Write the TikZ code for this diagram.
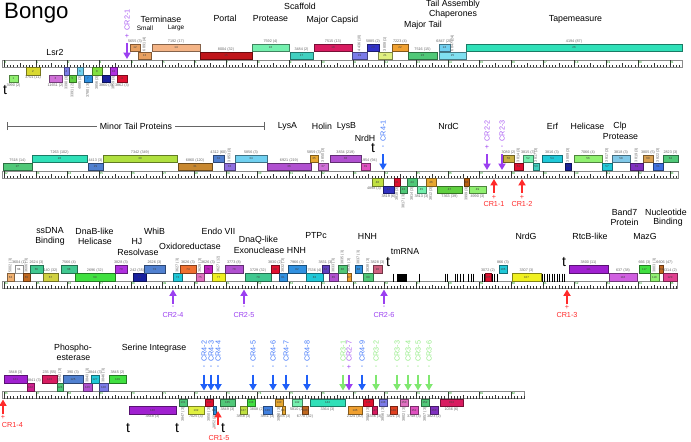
\documentclass[tikz,border=0pt]{standalone}
\usepackage{fontspec}
\setmainfont{Liberation Sans}
\usetikzlibrary{arrows.meta, positioning}
% gene colours
\definecolor{gSalmon}{HTML}{E8A060}
\definecolor{gPeach}{HTML}{F4B486}
\definecolor{gPeach2}{HTML}{F0B070}
\definecolor{gDkRed}{HTML}{C0161B}
\definecolor{gMint}{HTML}{74F0AE}
\definecolor{gTeal}{HTML}{40D0C0}
\definecolor{gCrimson}{HTML}{D81B60}
\definecolor{gSlate}{HTML}{7B7BE8}
\definecolor{gIndigo}{HTML}{3232C8}
\definecolor{gIndigo2}{HTML}{6040C0}
\definecolor{gPaleYel}{HTML}{E0F080}
\definecolor{gOrange}{HTML}{F0A030}
\definecolor{gGreen}{HTML}{50C878}
\definecolor{gGreen2}{HTML}{60D040}
\definecolor{gLtGreen}{HTML}{90F070}
\definecolor{gBrightGreen}{HTML}{40E040}
\definecolor{gTealGreen}{HTML}{40C890}
\definecolor{gSky}{HTML}{70D0F0}
\definecolor{gLtCyan}{HTML}{80E0F0}
\definecolor{gCyan}{HTML}{20C8D8}
\definecolor{gAqua}{HTML}{30E0B8}
\definecolor{gOlive}{HTML}{D8D830}
\definecolor{gOlive2}{HTML}{D0D040}
\definecolor{gOliveGold}{HTML}{C8B040}
\definecolor{gOrchid}{HTML}{D070D8}
\definecolor{gOrchid2}{HTML}{B050D0}
\definecolor{gOrchid3}{HTML}{D060E0}
\definecolor{gOrchidPink}{HTML}{E070C0}
\definecolor{gBlue}{HTML}{3090E0}
\definecolor{gBlue2}{HTML}{4080E0}
\definecolor{gLtBlue}{HTML}{80C8E8}
\definecolor{gSteel}{HTML}{5080D0}
\definecolor{gRoyal}{HTML}{4070E0}
\definecolor{gNavy}{HTML}{1820A0}
\definecolor{gBlueViolet}{HTML}{3030C0}
\definecolor{gLavender}{HTML}{9070E0}
\definecolor{gViolet}{HTML}{B030E0}
\definecolor{gPurple}{HTML}{8030C0}
\definecolor{gPurple2}{HTML}{A020D0}
\definecolor{gMagenta}{HTML}{C020C0}
\definecolor{gMagenta2}{HTML}{D02090}
\definecolor{gPink}{HTML}{E050C0}
\definecolor{gPinkMag}{HTML}{E04090}
\definecolor{gRose}{HTML}{D06080}
\definecolor{gRed}{HTML}{E01030}
\definecolor{gRedOr}{HTML}{E04020}
\definecolor{gOrangeRed}{HTML}{F07030}
\definecolor{gLime}{HTML}{80E040}
\definecolor{gLime2}{HTML}{B0E040}
\definecolor{gYelGreen}{HTML}{C0E040}
\definecolor{gYelLime}{HTML}{E0F040}
\definecolor{gYellow}{HTML}{F0F020}
\definecolor{gOchre}{HTML}{C88830}
\definecolor{gGold}{HTML}{E8A830}
\definecolor{gTan}{HTML}{D8A050}
\definecolor{gBrown}{HTML}{B86010}
\definecolor{gBrownOr}{HTML}{C06820}
% conserved region colours
\definecolor{crRed}{HTML}{FF2A2A}
\definecolor{crPurple}{HTML}{9B40F0}
\definecolor{crBlue}{HTML}{2060F8}
\definecolor{crGreen}{HTML}{80E870}
% gene: name, x1, x2, top y, colour, number, label mode, label
\newcommand{\gene}[8]{%
  \def\gname{#1}%
  \node[genebox, fill=#5, draw=#5!55!black, minimum width={(#3-#2)*0.03cm}]
    (#1) at ({(#2+#3)/2},{#4+3.75}) {\makebox[0pt]{#6}};
  \node[#7] (#1l) {#8};}
% ruler: top y, x start, x end, first kb
\newcommand{\ruler}[4]{%
  \draw[rulerbar] (#2,#1) rectangle (#3,{#1+7});
  \pgfmathtruncatemacro{\rtN}{(#3-#2-2)/3.17}%
  \foreach \i in {0,...,\rtN}{%
    \pgfmathsetmacro{\rtX}{#2+2+\i*3.17}%
    \pgfmathtruncatemacro{\rtM}{mod(\i,10)}%
    \pgfmathtruncatemacro{\rtH}{mod(\i,5)}%
    \ifnum\rtM=0
      \draw[rulertick] (\rtX,{#1+7}) -- (\rtX,#1);
      \pgfmathtruncatemacro{\rtK}{#4+\i/10}%
      \node[rulernum] (rn\rtK) at (\rtX,{#1+0.6}) {\rtK};
    \else\ifnum\rtH=0
      \draw[rulertick] (\rtX,{#1+7}) -- (\rtX,{#1+3});
    \else
      \draw[rulertick] (\rtX,{#1+7}) -- (\rtX,{#1+4.6});
    \fi\fi}}
% downward marker: name, x, ruler top, sign, colour, text
\newcommand{\crdown}[6]{%
  \node[crlab, rotate=90, anchor=west, text=#5!85!white] (#1) at (#2,{#3-29}) {#6};
  \node[crsign, text=#5] (#1s) at (#2,{#3-24}) {#4};
  \coordinate (#1a) at (#2,{#3-17});
  \coordinate (#1b) at (#2,{#3-1});
  \draw[crarrow, #5] (#1a) -- (#1b);}
% upward marker: [text opts] name, x, ruler bottom, sign, colour, text
\newcommand{\crup}[7][]{%
  \coordinate (#2a) at (#3,{#4+15});
  \coordinate (#2b) at (#3,{#4+1});
  \draw[crarrow, #6] (#2a) -- (#2b);
  \node[crsign, text=#6] (#2s) at (#3,{#4+19}) {#5};
  \node[crlab, text=#6, #1] (#2) at (#3,{#4+26}) {#7};}

\begin{document}
\begin{tikzpicture}[x=0.03cm, y=-0.03cm,
    flab/.style={font=\fontsize{7.5}{9}\selectfont, inner sep=0.5pt},
    sublab/.style={font=\fontsize{5.5}{6}\selectfont, inner sep=0.5pt},
    tlab/.style={font=\fontsize{12}{12}\selectfont, inner sep=0pt},
    genebox/.style={rectangle, line width=0.4pt, inner sep=0pt,
                    minimum height=0.225cm, font=\fontsize{2.5}{3}\selectfont,
                    text=black!75},
    glab/.style={font=\fontsize{3.2}{3.5}\selectfont, text=black!60, inner sep=0.4pt},
    labup/.style={glab, anchor=south, at={(\gname.north)}},
    labupv/.style={glab, rotate=90, anchor=west, at={(\gname.north)}},
    labdn/.style={glab, anchor=north, at={(\gname.south)}},
    labdnv/.style={glab, rotate=90, anchor=east, at={(\gname.south)}},
    rulerbar/.style={draw=black!45, fill=white, line width=0.6pt},
    rulertick/.style={black!80, line width=0.3pt},
    rulernum/.style={font=\fontsize{2.5}{3}\selectfont, text=green!55!black,
                     anchor=north west, inner sep=0.3pt},
    trna/.style={line width=0.8pt, black},
    crlab/.style={font=\fontsize{6.2}{7}\selectfont, inner sep=0.3pt},
    crsign/.style={font=\fontsize{6.2}{7}\selectfont, inner sep=0pt},
    crarrow/.style={line width=1.5pt, -{Triangle[width=6pt,length=5.5pt]}},
    bracket/.style={black!60, line width=0.5pt, {Bar[width=7pt]}-{Bar[width=7pt]}}]
  \useasboundingbox (0,0) rectangle (691,441);

  % ---------------- row 1 ----------------
  \ruler{60}{2}{682}{0}
  \node[font=\fontsize{19}{20}\selectfont, anchor=base west, inner sep=0pt] (title) at (4,18) {Bongo};
  \gene{g12}{130}{140}{44}{gSalmon}{12}{labup}{5655 (3)}
  \gene{g13}{138}{151}{52}{gSalmon}{13}{labupv}{6891 (4)}
  \gene{g14}{152}{200}{44}{gPeach}{14}{labup}{7192 (17)}
  \gene{g15}{200}{252}{52}{gDkRed}{15}{labup}{8004 (32)}
  \gene{g16}{252}{289}{44}{gMint}{16}{labup}{7592 (4)}
  \gene{g17}{290}{313}{52}{gTeal}{17}{labup}{3484 (2)}
  \gene{g18}{314}{352}{44}{gCrimson}{18}{labup}{7515 (13)}
  \gene{g19}{352}{367}{52}{gSlate}{19}{labupv}{4436 (10)}
  \gene{g20}{367}{379}{44}{gIndigo}{20}{labup}{5885 (2)}
  \gene{g21}{378}{392}{52}{gPaleYel}{21}{labupv}{3808 (1)}
  \gene{g22}{392}{408}{44}{gOrange}{22}{labup}{7223 (4)}
  \gene{g23}{408}{437}{52}{gGreen}{23}{labup}{7516 (15)}
  \gene{g24}{439}{450}{44}{gSky}{24}{labup}{6847 (20)}
  \gene{g25}{439}{466}{52}{gLtCyan}{25}{labupv}{6847 (24)}
  \gene{g26}{466}{682}{44}{gAqua}{26}{labup}{4194 (87)}
  \gene{g1}{9}{18}{75}{gLtGreen}{1}{labdn}{3990 (2)}
  \gene{g2}{26}{40}{67.5}{gOlive}{2}{labdn}{3701 (11)}
  \gene{g3}{49}{62}{75}{gOrchid}{3}{labdn}{11651 (2)}
  \gene{g4}{64}{69}{67.5}{gSlate}{4}{labdnv}{3390 (3)}
  \gene{g5}{69}{76}{75}{gGreen2}{5}{labdnv}{3391 (2)}
  \gene{g6}{77}{83}{67.5}{gSky}{6}{labdnv}{4885 (3)}
  \gene{g7}{84}{92}{75}{gBlue}{7}{labdnv}{3780 (3)}
  \gene{g8}{92}{102}{67.5}{gLime}{8}{labdnv}{3856 (3)}
  \gene{g9}{102}{110}{75}{gNavy}{9}{labdn}{3860 (3)}
  \gene{g10}{110}{117}{67.5}{gViolet}{10}{labdnv}{3859 (3)}
  \gene{g11}{117}{127}{75}{gRed}{11}{labdn}{3862 (3)}
  \node[flab] (lsr2) at (55,52) {Lsr2};
  \node[flab] (term) at (161,19) {Terminase};
  \node[sublab] (small) at (145,28) {Small};
  \node[sublab] (large) at (176,28) {Large};
  \node[flab] (portal) at (225,18) {Portal};
  \node[flab] (scaff) at (300,6) {Scaffold};
  \node[flab] (prot1) at (270.5,19) {Protease};
  \node[flab] (capsid) at (332.5,20) {Major Capsid};
  \node[flab] (mtail) at (423,25) {Major Tail};
  \node[flab] (tac1) at (453,4) {Tail Assembly};
  \node[flab] (tac2) at (453,14) {Chaperones};
  \node[flab] (tape) at (575.5,19) {Tapemeasure};
  \node[tlab] (t1) at (5,90) {t};
  \crdown{cr21}{127}{60}{+}{crPurple}{CR2-1}

  % ---------------- row 2 ----------------
  \ruler{171}{2}{678}{22}
  \gene{g27}{3}{32}{163}{gGreen}{27}{labup}{7518 (14)}
  \gene{g28}{32}{87}{155}{gAqua}{28}{labup}{7263 (102)}
  \gene{g29}{88}{103}{163}{gSteel}{29}{labup}{4413 (3)}
  \gene{g30}{103}{177}{155}{gLime2}{30}{labup}{7342 (349)}
  \gene{g31}{178}{212}{163}{gOchre}{31}{labup}{6860 (120)}
  \gene{g32}{213}{224}{155}{gSteel}{32}{labup}{4312 (60)}
  \gene{g33}{224}{235}{163}{gLavender}{33}{labupv}{3853 (3)}
  \gene{g34}{235}{267}{155}{gSky}{34}{labup}{5856 (3)}
  \gene{g36}{267}{311}{163}{gOrchid2}{36}{labup}{6921 (219)}
  \gene{g35}{310}{318}{155}{gGold}{35}{labup}{5859 (3)}
  \gene{g37}{318}{328}{163}{gOrchid}{37}{labupv}{3850 (3)}
  \gene{g38}{330}{361}{155}{gOrchid2}{38}{labup}{3834 (219)}
  \gene{g39}{361}{370}{163}{gPink}{39}{labup,xshift=3pt}{1954 (94)}
  \gene{g40}{372}{383}{178.5}{gYelGreen}{40}{labdn,xshift=-3pt}{4898 (3)}
  \gene{g42}{383}{394}{186}{gBlueViolet}{42}{labdn}{3819 (6)}
  \gene{g41}{394}{400}{178.5}{gRed}{41}{labdnv}{3818 (3)}
  \gene{g43}{400}{407}{186}{gGreen}{43}{labdnv}{3817 (3)}
  \gene{g44}{407}{417}{178.5}{gGreen}{44}{labdnv}{3814 (3)}
  \gene{g45}{417}{426}{186}{gMint}{45}{labdn}{3813 (3)}
  \gene{g46}{426}{436}{178.5}{gGold}{46}{labdnv}{3812 (3)}
  \gene{g47}{437}{462}{186}{gGreen2}{47}{labdn}{7363 (39)}
  \gene{g48}{464}{469}{178.5}{gBrown}{48}{labdnv}{3999 (3)}
  \gene{g49}{469}{486}{186}{gLtGreen}{49}{labdn}{4990 (3)}
  \gene{g50}{503}{514}{155}{gOliveGold}{50}{labup}{3080 (2)}
  \gene{g51}{514}{523}{163}{gRed}{51}{labupv}{3814 (3)}
  \gene{g52}{523}{533}{155}{gMint}{52}{labup}{3815 (3)}
  \gene{g53}{533}{539}{163}{gTeal}{53}{labupv}{3817 (3)}
  \gene{g54}{542}{562}{155}{gCyan}{54}{labup}{3816 (3)}
  \gene{g55}{565}{571}{163}{gNavy}{55}{labupv}{3809 (3)}
  \gene{g56}{574}{602}{155}{gLtGreen}{56}{labup}{7066 (4)}
  \gene{g57}{602}{612}{163}{gCyan}{57}{labupv}{3817 (3)}
  \gene{g58}{612}{630}{155}{gLtBlue}{58}{labup}{3818 (3)}
  \gene{g59}{630}{643}{163}{gPurple}{59}{labupv}{3819 (3)}
  \gene{g60}{643}{653}{155}{gTan}{60}{labup}{3805 (5)}
  \gene{g61}{653}{663}{163}{gRoyal}{61}{labupv}{3822 (3)}
  \gene{g62}{663}{678}{155}{gGreen}{62}{labup}{2823 (3)}
  \coordinate (mtpl) at (7,126);
  \coordinate (mtpr) at (265,126);
  \draw[bracket] (mtpl) -- node[flab, fill=white, inner xsep=2.5pt, text=black] (mtp) {Minor Tail Proteins} (mtpr);
  \node[flab] (lysa) at (287.5,126) {LysA};
  \node[flab] (holin) at (322,126) {Holin};
  \node[flab] (lysb) at (346.5,126) {LysB};
  \node[flab] (nrdh) at (365,138) {NrdH};
  \node[flab] (nrdc) at (448.5,126) {NrdC};
  \node[flab] (erf) at (552.5,126) {Erf};
  \node[flab] (heli1) at (587.5,126) {Helicase};
  \node[flab] (clp) at (620,126) {Clp};
  \node[flab] (prot2) at (620.5,137) {Protease};
  \node[tlab] (t2) at (373,148) {t};
  \crdown{cr41}{383}{171}{-}{crBlue}{CR4-1}
  \crdown{cr22}{487}{171}{+}{crPurple}{CR2-2}
  \crdown{cr23}{502}{171}{-}{crPurple}{CR2-3}
  \crup{cr11}{494}{178}{+}{crRed}{CR1-1}
  \crup{cr12}{522}{178}{+}{crRed}{CR1-2}

  % ---------------- row 3 ----------------
  \ruler{281.5}{2}{677}{44}
  \gene{g63}{7}{14}{273.5}{gPeach2}{63}{labupv}{5002 (3)}
  \gene{g64}{15}{23}{265.5}{white}{64}{labup}{3604 (1)}
  \gene{g65}{23}{30}{273.5}{gBrownOr}{65}{labupv}{3606 (3)}
  \gene{g66}{30}{43}{265.5}{gTealGreen}{66}{labup}{2624 (3)}
  \gene{g67}{43}{58}{273.5}{gOlive2}{67}{labup}{140 (32)}
  \gene{g68}{61}{77}{265.5}{gTealGreen}{68}{labup}{7566 (4)}
  \gene{g69}{75}{115}{273.5}{gBrightGreen}{69}{labup}{2696 (32)}
  \gene{g70}{115}{127}{265.5}{gViolet}{70}{labup}{3828 (3)}
  \gene{g71}{133}{146}{273.5}{gNavy}{71}{labup,xshift=-2pt}{242 (35)}
  \gene{g72}{144}{165}{265.5}{gSteel}{72}{labup}{2626 (3)}
  \gene{g73}{173}{182}{273.5}{gCyan}{73}{labupv}{3627 (3)}
  \gene{g74}{180}{196}{265.5}{gOrangeRed}{74}{labup}{3626 (3)}
  \gene{g75}{196}{204}{273.5}{gOrchidPink}{75}{labupv}{3628 (3)}
  \gene{g76}{204}{212}{265.5}{gMagenta}{76}{labup}{3626 (3)}
  \gene{g77}{212}{225}{273.5}{gYellow}{77}{labupv}{3627 (12)}
  \gene{g78}{225}{243}{265.5}{gOrchid2}{78}{labup}{3773 (8)}
  \gene{g79}{245}{271}{273.5}{gTealGreen}{79}{labup}{3729 (32)}
  \gene{g80}{271}{279}{265.5}{gRed}{80}{labup}{3830 (2)}
  \gene{g81}{279}{287}{273.5}{gBlue}{81}{labupv}{3832 (3)}
  \gene{g82}{288}{306}{265.5}{gBlue}{82}{labup}{7966 (3)}
  \gene{g83}{306}{323}{273.5}{gCyan}{83}{labup}{7536 (4)}
  \gene{g84}{322}{329}{265.5}{gIndigo2}{84}{labup}{3831 (3)}
  \gene{g85}{329}{338}{273.5}{gOrchid2}{85}{labupv}{3833 (3)}
  \gene{g86}{338}{347}{265.5}{gGreen}{86}{labupv}{3835 (3)}
  \gene{g87}{347}{351}{273.5}{gOrange}{87}{labupv}{3836 (3)}
  \gene{g88}{355}{362}{265.5}{gBlue}{88}{labupv}{3837 (3)}
  \gene{g89}{363}{373}{273.5}{gGreen}{89}{labupv}{3838 (3)}
  \gene{g90}{373}{382}{265.5}{gRose}{90}{labup}{3828 (3)}
  % tRNA genes
  \foreach \tx in {393,419,445,447,455,457,460,463,468,471,473,482,484,492,494,497,
                   542,544,547,549,552,554,557,559,562,564}
    \draw[trna] (\tx,273.5) -- (\tx,281.5);
  \fill[black] (397,273.5) rectangle (407,281.5);
  \gene{g105}{485}{491}{273.5}{gRed}{105}{labup}{3072 (2)}
  \gene{g106}{499}{507}{265.5}{gCyan}{106}{labup}{866 (3)}
  \gene{g107}{512}{541}{273.5}{gYellow}{107}{labup}{3307 (3)}
  \gene{g111}{569}{608}{265.5}{gPurple2}{111}{labup}{3800 (11)}
  \gene{g116}{609}{637}{273.5}{gOrchid3}{116}{labup}{637 (38)}
  \gene{g117}{639}{650}{265.5}{gBrightGreen}{117}{labup}{666 (3)}
  \gene{g118}{650}{659}{273.5}{gLtGreen}{118}{labupv}{3803 (3)}
  \gene{g119}{659}{663}{265.5}{gBrownOr}{119}{labup,xshift=3pt}{6606 (47)}
  \gene{g120}{663}{677}{273.5}{gPinkMag}{120}{labup}{3314 (2)}
  \node[flab] (ssdna) at (50,231) {ssDNA};
  \node[flab] (bind1) at (50,241) {Binding};
  \node[flab] (dnab) at (94.5,231) {DnaB-like};
  \node[flab] (heli2) at (95,241) {Helicase};
  \node[flab] (whib) at (154.5,231) {WhiB};
  \node[flab] (hj) at (137,242) {HJ};
  \node[flab] (resolv) at (138,252) {Resolvase};
  \node[flab] (oxido) at (190,246) {Oxidoreductase};
  \node[flab] (endo) at (218.5,231) {Endo VII};
  \node[flab] (dnaq) at (258.5,240) {DnaQ-like};
  \node[flab] (exo) at (259,250) {Exonuclease};
  \node[flab] (hnh1) at (296.5,250) {HNH};
  \node[flab] (ptpc) at (316,236) {PTPc};
  \node[flab] (hnh2) at (367.5,236) {HNH};
  \node[flab] (tmrna) at (405,252) {tmRNA};
  \node[flab] (nrdg) at (526,236) {NrdG};
  \node[flab] (rtcb) at (590,236) {RtcB-like};
  \node[flab] (mazg) at (645,236) {MazG};
  \node[flab] (band) at (624.5,212) {Band7};
  \node[flab] (protein) at (624.5,222) {Protein};
  \node[flab] (nucl) at (666,212) {Nucleotide};
  \node[flab] (bind2) at (668,222) {Binding};
  \node[tlab] (t3) at (388,262) {t};
  \node[tlab] (t4) at (564,262) {t};
  \crup{cr24}{173}{288.5}{-}{crPurple}{CR2-4}
  \crup{cr25}{244}{288.5}{-}{crPurple}{CR2-5}
  \crup{cr26}{384}{288.5}{-}{crPurple}{CR2-6}
  \crup{cr13}{567}{288.5}{+}{crRed}{CR1-3}

  % ---------------- row 4 ----------------
  \ruler{391.5}{2}{524}{66}
  \gene{g121}{4}{27}{375.5}{gPurple2}{121}{labup}{3848 (3)}
  \gene{g122}{27}{34}{383.5}{gMagenta2}{122}{labup,xshift=3pt}{3841 (3)}
  \gene{g123}{42}{57}{375.5}{gCrimson}{123}{labup}{235 (55)}
  \gene{g124}{57}{63}{383.5}{gGreen}{124}{labupv}{3842 (3)}
  \gene{g125}{63}{83}{375.5}{gSteel}{125}{labup}{390 (3)}
  \gene{g126}{83}{92}{383.5}{gOrchid2}{126}{labupv}{3843 (3)}
  \gene{g127}{91}{99}{375.5}{gCyan}{127}{labup}{3844 (3)}
  \gene{g128}{99}{108}{383.5}{gSlate}{128}{labupv}{3846 (3)}
  \gene{g129}{109}{126}{375.5}{gBrightGreen}{129}{labup}{3845 (2)}
  \gene{g130}{129}{176}{406.5}{gPurple2}{130}{labdn}{3848 (3)}
  \gene{g131}{179}{187}{399}{gGreen}{131}{labdnv}{3847 (3)}
  \gene{g132}{188}{204}{406.5}{gYelLime}{132}{labdn}{7025 (3)}
  \gene{g133}{205}{213}{399}{gRed}{133}{labdnv}{3850 (3)}
  \gene{g134}{213}{216}{406.5}{gBlue}{134}{labdnv}{3852 (3)}
  \gene{g135}{220}{235}{399}{gGreen}{135}{labdn}{3849 (3)}
  \gene{g137}{240}{247}{406.5}{gYelGreen}{137}{labdn}{3858 (3)}
  \gene{g138}{247}{255}{399}{gBrightGreen}{138}{labdn,xshift=5pt}{3808 (2)}
  \gene{g139}{263}{272}{406.5}{gBlue2}{139}{labdn}{3851 (3)}
  \gene{g140}{275}{283}{399}{gGold}{140}{labdnv}{3854 (3)}
  \gene{g141}{282}{285}{406.5}{gGold}{141}{labdn}{7035 (3)}
  \gene{g142}{292}{302}{399}{gMint}{142}{labdn}{5810 (2)}
  \gene{g143}{302}{308}{406.5}{gBrownOr}{143}{labdn}{6770 (32)}
  \gene{g144}{310}{345}{399}{gAqua}{144}{labdn}{3364 (3)}
  \gene{g145}{348}{362}{406.5}{gOrange}{145}{labdn}{2124 (40)}
  \gene{g146}{363}{373}{399}{gRed}{146}{labdnv}{3855 (3)}
  \gene{g147}{372}{377}{406.5}{gCrimson}{147}{labdn}{4336 (3)}
  \gene{g148}{379}{387}{399}{gSlate}{148}{labdnv}{3856 (3)}
  \gene{g149}{390}{397}{406.5}{gRedOr}{149}{labdn}{3821 (3)}
  \gene{g150}{400}{408}{399}{gOrchidPink}{150}{labdnv}{3802 (3)}
  \gene{g151}{410}{418}{406.5}{gPink}{151}{labdn}{3748 (3)}
  \gene{g152}{421}{429}{399}{gGreen}{152}{labdnv}{3857 (3)}
  \gene{g153}{430}{438}{406.5}{gPurple}{153}{labdn}{3823 (2)}
  \gene{g154}{440}{463}{399}{gCrimson}{154}{labdn}{1036 (6)}
  \node[flab] (phos1) at (73,348) {Phospho-};
  \node[flab] (phos2) at (73.5,358) {esterase};
  \node[flab] (serint) at (154,348) {Serine Integrase};
  \node[tlab] (t5) at (128,428) {t};
  \node[tlab] (t6) at (177,428) {t};
  \node[tlab] (t7) at (223,428) {t};
  \crdown{cr42}{204}{391.5}{-}{crBlue}{CR4-2}
  \crdown{cr43}{211}{391.5}{-}{crBlue}{CR4-3}
  \crdown{cr44}{218}{391.5}{-}{crBlue}{CR4-4}
  \crdown{cr45}{253}{391.5}{-}{crBlue}{CR4-5}
  \crdown{cr46}{273}{391.5}{-}{crBlue}{CR4-6}
  \crdown{cr47}{286}{391.5}{-}{crBlue}{CR4-7}
  \crdown{cr48}{307}{391.5}{-}{crBlue}{CR4-8}
  \crdown{cr31}{343}{391.5}{-}{crGreen}{CR3-1}
  \crdown{cr27}{349}{391.5}{+}{crPurple}{CR2-7}
  \crdown{cr49}{362}{391.5}{-}{crBlue}{CR4-9}
  \crdown{cr32}{376}{391.5}{-}{crGreen}{CR3-2}
  \crdown{cr33}{397}{391.5}{-}{crGreen}{CR3-3}
  \crdown{cr34}{408}{391.5}{-}{crGreen}{CR3-4}
  \crdown{cr35}{418}{391.5}{-}{crGreen}{CR3-5}
  \crdown{cr36}{429}{391.5}{-}{crGreen}{CR3-6}
  \crup[anchor=west, xshift=-1.5pt]{cr14}{3}{398.5}{+}{crRed}{CR1-4}
  \coordinate (cr15a) at (218,425);
  \coordinate (cr15b) at (218,411);
  \draw[crarrow, crRed] (cr15a) -- (cr15b);
  \node[crsign, text=crRed] (cr15s) at (215,429) {-};
  \node[crlab, text=crRed] (cr15) at (219,437.5) {CR1-5};
\end{tikzpicture}
\end{document}
